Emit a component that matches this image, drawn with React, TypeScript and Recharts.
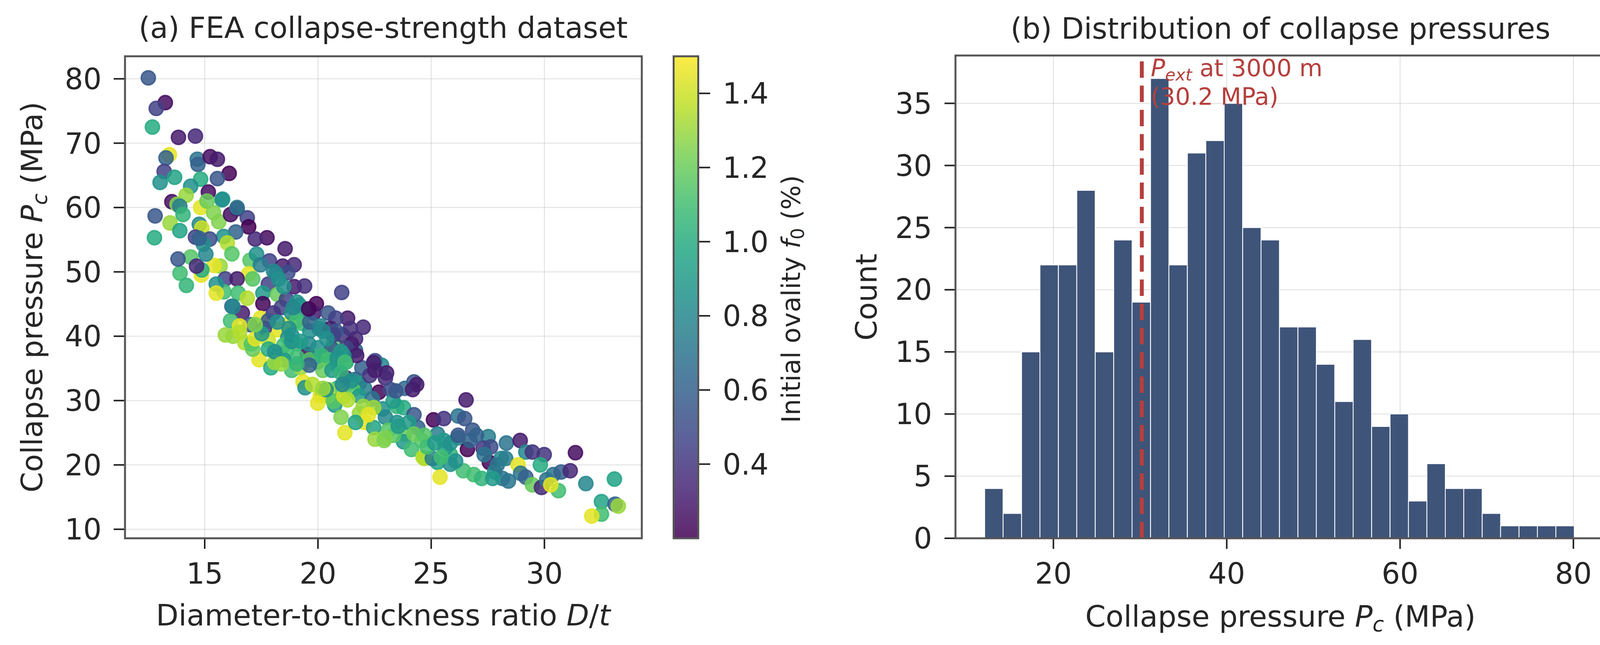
import React from "react";
import {
  ScatterChart,
  Scatter,
  ComposedChart,
  BarChart,
  Bar,
  XAxis,
  YAxis,
  CartesianGrid,
  ReferenceLine,
} from "recharts";

const FONT = "'DejaVu Sans', sans-serif";
const INK = "#262626";
const SPINE = "#555555";

// ---- panel (a): FEA collapse-strength dataset ----
const DT_TICKS = [15, 20, 25, 30];
const PC_TICKS = [10, 20, 30, 40, 50, 60, 70, 80];
const OVALITY_TICKS = [0.4, 0.6, 0.8, 1.0, 1.2, 1.4];

// [D/t, collapse pressure Pc (MPa), initial ovality f0 (%)]
const FEA_POINTS: [number, number, number][] = [
  [12.51, 80.15, 0.55], [13.26, 76.3, 0.25], [12.86, 75.4, 0.45], [12.69, 72.5, 1.0],
  [13.84, 70.9, 0.3], [14.59, 71.1, 0.35], [13.44, 68.2, 1.45], [13.29, 67.7, 0.6],
  [14.67, 67.5, 0.7], [14.7, 66.7, 0.6], [15.24, 67.9, 0.25], [15.56, 67.5, 0.3],
  [16.08, 65.3, 0.22], [15.56, 64.5, 0.55], [13.21, 65.6, 0.45], [13.67, 64.7, 0.95],
  [13.03, 63.9, 0.85], [14.82, 64.4, 1.0], [14.38, 63.3, 0.85], [14.18, 61.9, 1.3],
  [15.16, 62.4, 0.25], [15.76, 61.2, 0.9], [13.55, 60.9, 0.25], [13.78, 60.5, 1.25],
  [13.9, 60.2, 0.75], [14.82, 60.0, 1.45], [15.1, 61.0, 1.2], [14.04, 58.9, 1.05],
  [12.81, 58.7, 0.55], [13.47, 57.6, 1.3], [13.9, 56.4, 0.95], [12.78, 55.3, 1.0],
  [15.39, 59.2, 1.25], [15.62, 57.8, 1.25], [14.76, 57.4, 0.8], [14.87, 56.8, 1.4],
  [14.59, 55.4, 0.45], [16.14, 58.9, 0.25], [16.43, 59.8, 0.3], [16.88, 58.4, 0.45],
  [16.94, 57.0, 0.2], [16.37, 56.2, 0.6], [17.75, 55.3, 0.25], [17.23, 55.1, 0.35],
  [15.84, 55.5, 0.85], [18.55, 53.6, 0.3], [15.22, 55.1, 0.5], [16.0, 54.5, 1.35],
  [15.79, 61.3, 0.85], [16.43, 60.0, 0.7], [16.2, 52.8, 1.15], [17.0, 51.8, 1.15],
  [17.29, 52.75, 0.85], [17.86, 51.7, 0.45], [18.44, 50.9, 0.3], [18.95, 51.1, 0.35],
  [18.67, 49.9, 0.5], [18.15, 49.7, 0.75], [15.68, 50.9, 1.3], [16.94, 49.7, 1.45],
  [15.91, 48.9, 0.45], [16.43, 48.9, 0.3], [17.12, 48.9, 1.15], [17.81, 48.1, 0.45],
  [18.95, 47.7, 0.3], [19.41, 47.8, 0.38], [21.05, 46.8, 0.45], [15.85, 46.9, 1.1],
  [16.48, 46.7, 1.1], [17.57, 46.7, 0.9], [18.21, 46.5, 1.2], [16.88, 45.9, 1.35],
  [17.57, 45.05, 0.22], [16.2, 44.65, 0.6], [16.66, 43.6, 0.3], [18.61, 45.7, 0.45],
  [19.18, 44.85, 0.8], [19.93, 45.05, 0.22], [19.82, 43.6, 0.3], [20.45, 43.6, 0.55],
  [21.31, 42.8, 0.3], [20.79, 42.8, 0.45], [22.0, 41.4, 0.35], [21.43, 41.2, 0.38],
  [16.14, 42.4, 1.1], [17.46, 42.8, 1.45], [17.0, 41.8, 0.55], [16.54, 41.6, 1.45],
  [18.26, 41.0, 1.45], [17.63, 41.2, 0.4], [19.3, 42.0, 1.1], [18.72, 42.0, 1.45],
  [16.25, 40.0, 1.3], [16.77, 39.0, 1.35], [17.81, 39.4, 1.4], [18.67, 39.8, 0.85],
  [19.64, 40.8, 0.85], [20.05, 41.2, 0.8], [20.68, 39.0, 1.15], [21.66, 37.8, 0.6],
  [21.08, 40.2, 0.4], [21.66, 39.6, 0.35], [19.53, 37.2, 0.22], [20.33, 37.0, 1.1],
  [20.79, 36.2, 0.9], [17.4, 36.35, 1.45], [18.21, 37.0, 0.9], [18.61, 37.6, 1.1],
  [19.07, 38.8, 1.05], [17.12, 38.0, 1.2], [22.52, 36.2, 0.5], [22.81, 35.5, 0.8],
  [21.94, 35.1, 0.6], [23.03, 34.3, 0.3], [21.25, 36.0, 1.0], [18.84, 34.7, 1.1],
  [17.92, 35.1, 1.0], [19.24, 35.1, 1.3], [17.46, 51.1, 0.75], [18.04, 50.1, 0.8],
  [18.26, 48.9, 0.85], [18.49, 47.7, 0.85], [19.07, 45.3, 0.85], [19.36, 44.25, 0.9],
  [18.38, 44.45, 0.45], [18.03, 43.6, 0.4], [18.84, 43.6, 0.85], [17.81, 42.4, 0.55],
  [18.21, 42.2, 0.85], [19.07, 42.4, 1.1], [19.64, 42.2, 0.6], [20.1, 41.6, 0.8],
  [20.56, 41.2, 0.3], [20.79, 40.8, 0.55], [21.48, 38.8, 0.3], [21.25, 38.2, 0.45],
  [21.71, 37.0, 0.3], [21.14, 37.0, 0.85], [19.99, 36.0, 0.85], [19.64, 36.35, 1.15],
  [19.07, 36.75, 1.1], [18.49, 36.35, 0.9], [18.09, 35.95, 1.3], [17.06, 38.8, 1.15],
  [17.23, 39.6, 1.45], [17.52, 40.4, 0.9], [16.54, 40.6, 1.35], [15.91, 40.2, 1.3],
  [18.49, 38.6, 1.1], [18.84, 39.2, 0.85], [17.81, 38.0, 1.0], [19.59, 38.8, 0.8],
  [19.99, 38.2, 0.85], [20.62, 38.0, 0.55], [21.02, 37.6, 0.9], [20.67, 40.2, 0.45],
  [20.85, 35.5, 0.85], [22.46, 35.9, 0.3], [22.98, 33.5, 0.35], [21.25, 33.5, 0.3],
  [21.66, 33.3, 0.6], [22.69, 31.3, 0.22], [23.21, 31.7, 0.5], [24.24, 32.9, 0.55],
  [24.36, 32.5, 0.3], [23.84, 31.9, 0.65], [24.18, 31.7, 0.3], [26.54, 30.1, 0.3],
  [20.1, 30.7, 1.45], [20.2, 31.0, 1.35], [20.74, 29.3, 0.9], [21.02, 27.4, 1.25],
  [21.19, 25.0, 1.45], [21.83, 28.0, 1.3], [22.06, 26.6, 1.45], [21.66, 26.6, 0.95],
  [22.46, 25.8, 0.95], [22.52, 24.0, 1.3], [22.92, 23.8, 1.25], [22.86, 28.7, 0.85],
  [22.98, 27.4, 0.8], [23.49, 29.1, 1.05], [23.78, 28.9, 1.0], [23.49, 26.6, 0.85],
  [24.24, 27.8, 0.55], [24.41, 25.8, 0.6], [23.84, 24.8, 1.2], [23.78, 23.6, 0.9],
  [24.59, 23.8, 1.15], [24.13, 22.4, 1.1], [24.64, 21.2, 1.35], [25.1, 27.0, 0.22],
  [25.56, 27.2, 0.4], [26.19, 27.6, 0.7], [26.48, 27.2, 0.55], [25.28, 24.8, 0.75],
  [25.56, 23.8, 0.9], [26.19, 24.2, 0.8], [26.83, 25.4, 0.55], [27.52, 24.4, 0.75],
  [26.6, 22.4, 0.22], [27.29, 22.6, 0.4], [27.63, 22.8, 0.5], [27.57, 20.4, 0.22],
  [27.34, 21.6, 0.7], [28.32, 23.4, 0.7], [25.85, 21.6, 1.05], [25.28, 20.4, 0.95],
  [24.7, 21.0, 1.35], [25.39, 18.1, 1.45], [26.42, 19.1, 1.1], [26.88, 18.5, 1.1],
  [27.23, 17.9, 1.05], [27.8, 18.9, 0.85], [28.15, 17.9, 0.7], [25.85, 20.1, 0.85],
  [25.05, 21.0, 0.75], [20.22, 40.8, 0.8], [20.39, 39.6, 0.85], [20.16, 37.0, 1.05],
  [20.45, 36.35, 1.1], [20.85, 36.55, 0.85], [21.19, 35.95, 1.1], [20.22, 34.7, 1.2],
  [20.62, 34.7, 0.9], [21.02, 34.3, 1.05], [21.37, 32.7, 0.85], [21.83, 32.7, 0.9],
  [22.06, 31.9, 0.75], [22.29, 33.9, 0.4], [22.52, 34.7, 0.3], [20.85, 31.9, 1.1],
  [20.45, 31.7, 1.3], [20.45, 30.7, 1.4], [20.68, 29.9, 1.15], [21.14, 30.7, 1.4],
  [21.54, 31.7, 1.15], [21.83, 30.7, 0.9], [22.4, 30.3, 0.7], [23.32, 29.9, 0.9],
  [22.0, 29.1, 1.3], [22.46, 28.9, 1.3], [22.23, 27.8, 1.45], [23.11, 25.4, 1.15],
  [23.34, 24.6, 1.15], [23.55, 26.0, 0.9], [24.01, 26.6, 0.9], [24.24, 24.8, 1.2],
  [24.7, 24.6, 1.15], [24.82, 22.8, 1.1], [25.16, 23.4, 0.9], [25.62, 22.6, 0.9],
  [25.85, 23.4, 0.85], [25.45, 21.2, 1.1], [26.08, 20.6, 0.85], [26.19, 24.6, 0.55],
  [26.71, 23.8, 0.6], [27.0, 24.6, 0.6], [28.09, 21.0, 0.8], [27.92, 20.0, 0.7],
  [28.93, 23.8, 0.3], [29.18, 22.0, 0.8], [29.47, 22.0, 0.4], [29.99, 21.6, 0.4],
  [31.37, 21.9, 0.25], [28.29, 21.0, 0.75], [28.84, 20.0, 1.45], [29.82, 20.0, 1.0],
  [27.72, 17.9, 0.9], [28.41, 17.5, 0.7], [28.95, 18.7, 0.7], [29.18, 18.1, 0.6],
  [29.47, 16.9, 1.2], [29.87, 16.5, 0.35], [30.1, 17.7, 0.7], [30.39, 18.5, 0.7],
  [30.74, 18.9, 0.6], [31.14, 19.1, 0.35], [30.62, 16.0, 1.1], [30.28, 16.9, 1.45],
  [31.83, 17.1, 0.8], [33.09, 17.8, 0.95], [32.52, 14.3, 0.95], [33.12, 13.9, 0.6],
  [33.26, 13.6, 1.3], [32.52, 12.35, 1.1], [32.09, 12.05, 1.45], [13.91, 49.8, 1.1],
  [14.19, 47.9, 1.05], [14.85, 49.5, 1.45], [14.38, 52.3, 1.15], [13.82, 52.0, 0.55],
  [15.41, 51.0, 1.45], [14.94, 54.3, 0.85], [14.76, 55.2, 0.6], [16.25, 44.6, 0.8],
  [19.34, 32.9, 1.45], [19.43, 32.0, 0.85], [19.99, 29.6, 1.45], [20.36, 31.7, 0.85],
  [19.62, 35.5, 0.6], [21.48, 33.1, 0.85], [14.87, 50.3, 1.0], [14.64, 50.9, 0.35],
  [15.05, 52.75, 0.8], [15.51, 48.1, 0.85], [15.51, 46.7, 1.45], [18.9, 44.45, 0.8],
  [19.59, 44.25, 0.22], [18.72, 41.2, 0.85], [18.84, 40.2, 0.85], [19.24, 39.2, 0.9],
  [18.09, 37.6, 0.85], [18.38, 35.7, 1.3], [19.07, 35.7, 1.05], [17.23, 41.8, 1.25],
  [23.44, 31.5, 0.55], [19.76, 32.5, 1.35], [20.22, 31.9, 1.3], [21.08, 32.5, 0.8],
  [21.31, 30.1, 1.35], [22.98, 24.2, 1.25],
];

// ---- panel (b): histogram of collapse pressures ----
const BIN_CENTERS = [
  13.13, 15.26, 17.39, 19.51, 21.64, 23.76, 25.89, 28.02, 30.14, 32.27, 34.39,
  36.52, 38.65, 40.77, 42.9, 45.02, 47.15, 49.28, 51.4, 53.53, 55.65, 57.78,
  59.91, 62.03, 64.16, 66.28, 68.41, 70.54, 72.66, 74.79, 76.91, 79.04,
];
const BIN_COUNTS = [
  4, 2, 15, 22, 22, 28, 15, 24, 19, 37, 22, 31, 32, 35, 25, 24, 17, 17, 14, 11,
  16, 9, 10, 3, 6, 4, 4, 2, 1, 1, 1, 1,
];
const PRESSURE_TICKS = [20, 40, 60, 80];
const COUNT_TICKS = [0, 5, 10, 15, 20, 25, 30, 35];
const P_EXT_3000M = 30.2;

const VIRIDIS = [
  "#440154", "#482475", "#414487", "#355f8d", "#2a788e", "#21918c",
  "#22a884", "#44bf70", "#7ad151", "#bddf26", "#fde725",
];
const F0_MIN = 0.2;
const F0_MAX = 1.5;

const hexRgb = (h: string) => [1, 3, 5].map((i) => parseInt(h.slice(i, i + 2), 16));

function viridis(t: number) {
  const u = Math.min(1, Math.max(0, t)) * (VIRIDIS.length - 1);
  const i = Math.min(VIRIDIS.length - 2, Math.floor(u));
  const f = u - i;
  const a = hexRgb(VIRIDIS[i]);
  const b = hexRgb(VIRIDIS[i + 1]);
  return `rgb(${a.map((v, k) => Math.round(v + (b[k] - v) * f)).join(",")})`;
}

const ovalityColor = (f0: number) => viridis((f0 - F0_MIN) / (F0_MAX - F0_MIN));

const scatterData = FEA_POINTS.map(([dt, pc, f0]) => ({ dt, pc, f0 }));
const histData = BIN_CENTERS.map((center, i) => ({ center, count: BIN_COUNTS[i] }));
const colorbarData = [{ name: "f0", range: [F0_MIN, F0_MAX] }];

const tickText = { fill: INK, fontSize: 74, fontFamily: FONT };
const tickStroke = { stroke: "#222", strokeWidth: 4 };

function OvalityDot(props: any) {
  const c = ovalityColor(props.payload.f0);
  return (
    <circle
      cx={props.cx}
      cy={props.cy}
      r={18}
      fill={c}
      fillOpacity={0.85}
      stroke={c}
      strokeOpacity={0.85}
      strokeWidth={4}
    />
  );
}

function PextLabel(props: any) {
  const vb = props.viewBox || { x: 0, y: 0 };
  const x = vb.x + 23;
  return (
    <text fill="#b5403d" fontSize={61} fontFamily={FONT}>
      <tspan x={x} y={vb.y + 53}>
        <tspan fontStyle="italic">P</tspan>
        <tspan fontStyle="italic" fontSize={43} dy={11}>ext</tspan>
        <tspan dy={-11}> at 3000 m</tspan>
      </tspan>
      <tspan x={x} y={vb.y + 126}>(30.2 MPa)</tspan>
    </text>
  );
}

export default function App() {
  return (
    <div style={{ position: "absolute", left: 0, top: 0, width: 4138, height: 1650, background: "#fff" }}>
      {/* (a) scatter */}
      <div style={{ position: "absolute", left: 0, top: 0 }}>
        <ScatterChart width={1700} height={1650} margin={{ top: 144, right: 57, bottom: 173, left: 0 }}>
          <XAxis
            type="number"
            dataKey="dt"
            domain={[11.48, 34.3]}
            ticks={DT_TICKS}
            allowDataOverflow
            height={100}
            tickSize={27}
            tickMargin={36}
            axisLine={false}
            tickLine={tickStroke}
            tick={tickText}
          />
          <YAxis
            type="number"
            dataKey="pc"
            domain={[8.6, 83.5]}
            ticks={PC_TICKS}
            allowDataOverflow
            width={320}
            tickSize={29}
            tickMargin={31}
            axisLine={false}
            tickLine={tickStroke}
            tick={tickText}
          />
          <Scatter data={scatterData} shape={OvalityDot} isAnimationActive={false} />
          <CartesianGrid stroke="#b0b0b0" strokeOpacity={0.35} strokeWidth={2.5} />
        </ScatterChart>
      </div>

      {/* colour bar */}
      <div style={{ position: "absolute", left: 1700, top: 0 }}>
        <BarChart
          width={300}
          height={1650}
          data={colorbarData}
          margin={{ top: 144, right: 10, bottom: 273, left: 22 }}
          barCategoryGap={0}
        >
          <defs>
            <linearGradient id="viridisBar" x1="0" y1="1" x2="0" y2="0">
              {VIRIDIS.map((c, i) => (
                <stop key={i} offset={i / (VIRIDIS.length - 1)} stopColor={c} />
              ))}
            </linearGradient>
          </defs>
          <XAxis type="category" dataKey="name" hide />
          <YAxis
            orientation="right"
            type="number"
            domain={[F0_MIN, F0_MAX]}
            ticks={OVALITY_TICKS}
            allowDataOverflow
            tickFormatter={(v: number) => v.toFixed(1)}
            width={200}
            tickSize={28}
            tickMargin={32}
            axisLine={false}
            tickLine={tickStroke}
            tick={tickText}
          />
          <Bar dataKey="range" fill="url(#viridisBar)" fillOpacity={0.85} isAnimationActive={false} />
        </BarChart>
      </div>

      {/* (b) histogram */}
      <div style={{ position: "absolute", left: 2150, top: 0 }}>
        <ComposedChart
          width={1988}
          height={1650}
          data={histData}
          margin={{ top: 142, right: 28, bottom: 173, left: 0 }}
          barCategoryGap={0}
          barGap={0}
        >
          <XAxis
            type="number"
            dataKey="center"
            domain={[8.7, 83.7]}
            ticks={PRESSURE_TICKS}
            allowDataOverflow
            height={100}
            tickSize={27}
            tickMargin={36}
            axisLine={false}
            tickLine={tickStroke}
            tick={tickText}
          />
          <YAxis
            type="number"
            domain={[0, 38.85]}
            ticks={COUNT_TICKS}
            allowDataOverflow
            width={296}
            tickSize={28}
            tickMargin={32}
            axisLine={false}
            tickLine={tickStroke}
            tick={tickText}
          />
          <Bar dataKey="count" fill="#3f5479" stroke="#ffffff" strokeWidth={2} isAnimationActive={false} />
          <CartesianGrid stroke="#b0b0b0" strokeOpacity={0.35} strokeWidth={2.5} />
          <ReferenceLine
            x={P_EXT_3000M}
            stroke="#b5403d"
            strokeWidth={10}
            strokeDasharray="42 20"
            label={(p: any) => <PextLabel {...p} />}
          />
        </ComposedChart>
      </div>

      {/* frames, titles and axis labels */}
      <svg
        width={4138}
        height={1650}
        style={{ position: "absolute", left: 0, top: 0, pointerEvents: "none" }}
        fontFamily={FONT}
        fill={INK}
      >
        <rect x={320} y={144} width={1323} height={1233} fill="none" stroke={SPINE} strokeWidth={5} />
        <rect x={1724.5} y={144} width={63} height={1233} fill="none" stroke={SPINE} strokeWidth={5} />
        <rect x={2446} y={142} width={1664} height={1235} fill="none" stroke={SPINE} strokeWidth={5} />

        <text x={981} y={97} fontSize={75} textAnchor="middle">(a) FEA collapse-strength dataset</text>
        <text x={3278} y={99} fontSize={75} textAnchor="middle">(b) Distribution of collapse pressures</text>

        <text x={981} y={1600} fontSize={75} textAnchor="middle">
          Diameter-to-thickness ratio <tspan fontStyle="italic">D</tspan>/<tspan fontStyle="italic">t</tspan>
        </text>
        <text x={3278} y={1603} fontSize={75} textAnchor="middle">
          Collapse pressure <tspan fontStyle="italic">P</tspan>
          <tspan fontStyle="italic" fontSize={53} dy={12}>c</tspan>
          <tspan dy={-12}> (MPa)</tspan>
        </text>

        <text transform="translate(108,760) rotate(-90)" fontSize={75} textAnchor="middle">
          Collapse pressure <tspan fontStyle="italic">P</tspan>
          <tspan fontStyle="italic" fontSize={53} dy={12}>c</tspan>
          <tspan dy={-12}> (MPa)</tspan>
        </text>
        <text transform="translate(2244,760) rotate(-90)" fontSize={75} textAnchor="middle">Count</text>
        <text transform="translate(2048,765) rotate(-90)" fontSize={66} textAnchor="middle">
          Initial ovality <tspan fontStyle="italic">f</tspan>
          <tspan fontSize={46} dy={10}>0</tspan>
          <tspan dy={-10}> (%)</tspan>
        </text>
      </svg>
    </div>
  );
}
